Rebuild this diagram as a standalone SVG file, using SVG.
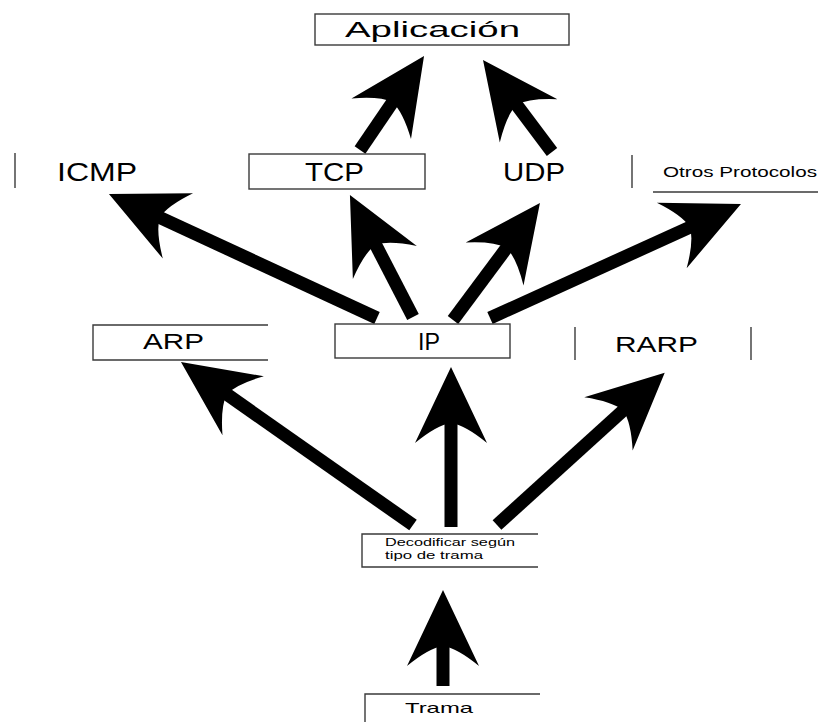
<svg xmlns="http://www.w3.org/2000/svg" width="818" height="722" viewBox="0 0 818 722">
<style>
.bx{fill:none;stroke:#3a3a3a;stroke-width:1.4}
.t{font-family:"Liberation Sans",Arial,sans-serif;fill:#000}
.ar{stroke:#000;stroke-width:13;fill:none}
</style>
<defs>
<marker id="head" markerUnits="userSpaceOnUse" orient="auto" refX="-45" refY="0" overflow="visible" markerWidth="1" markerHeight="1">
<path d="M0,0 L-76,-36 Q-58,-14 -56,0 Q-58,14 -76,36 Z" fill="#000"/>
</marker>
</defs>
<rect width="818" height="722" fill="#fff"/>
<g id="connectors">
<line class="ar" x1="443" y1="686" x2="443" y2="635" marker-end="url(#head)"/>
<line class="ar" x1="413" y1="525" x2="217.8" y2="387.9" marker-end="url(#head)"/>
<line class="ar" x1="451" y1="527" x2="451" y2="412" marker-end="url(#head)"/>
<line class="ar" x1="497" y1="525" x2="631.4" y2="403" marker-end="url(#head)"/>
<line class="ar" x1="377" y1="318" x2="149.8" y2="212.9" marker-end="url(#head)"/>
<line class="ar" x1="413" y1="317" x2="370.6" y2="235" marker-end="url(#head)"/>
<line class="ar" x1="453" y1="320" x2="513.1" y2="239.1" marker-end="url(#head)"/>
<line class="ar" x1="490" y1="318" x2="700" y2="222.6" marker-end="url(#head)"/>
<line class="ar" x1="360" y1="150" x2="398.7" y2="93.2" marker-end="url(#head)"/>
<line class="ar" x1="552" y1="152" x2="510" y2="96" marker-end="url(#head)"/>
</g>
<g id="aplicacion">
<rect class="bx" x="315" y="14" width="254" height="31"/>
<text class="t" x="345" y="37" font-size="22" textLength="175" lengthAdjust="spacingAndGlyphs">Aplicación</text>
</g>
<g id="icmp">
<line class="bx" x1="15" y1="153" x2="15" y2="188"/>
<text class="t" x="57" y="181" font-size="25" textLength="80" lengthAdjust="spacingAndGlyphs">ICMP</text>
</g>
<g id="tcp">
<rect class="bx" x="249" y="154" width="176" height="35"/>
<text class="t" x="305" y="181" font-size="25" textLength="59" lengthAdjust="spacingAndGlyphs">TCP</text>
</g>
<g id="udp">
<text class="t" x="503" y="181" font-size="25" textLength="62" lengthAdjust="spacingAndGlyphs">UDP</text>
</g>
<g id="otros">
<line class="bx" x1="632" y1="155" x2="632" y2="188"/>
<line class="bx" x1="653" y1="192" x2="818" y2="192"/>
<text class="t" x="663" y="177" font-size="14" textLength="154" lengthAdjust="spacingAndGlyphs">Otros Protocolos</text>
</g>
<g id="arp">
<path class="bx" d="M268,325 H93 V360 H268"/>
<text class="t" x="143" y="349" font-size="22" textLength="61" lengthAdjust="spacingAndGlyphs">ARP</text>
</g>
<g id="ip">
<rect class="bx" x="335" y="324" width="175" height="34"/>
<text class="t" x="418" y="350" font-size="23" textLength="22" lengthAdjust="spacingAndGlyphs">IP</text>
</g>
<g id="rarp">
<line class="bx" x1="575" y1="327" x2="575" y2="360"/>
<line class="bx" x1="751" y1="327" x2="751" y2="360"/>
<text class="t" x="615" y="352" font-size="22" textLength="83" lengthAdjust="spacingAndGlyphs">RARP</text>
</g>
<g id="decodificar">
<path class="bx" d="M538,534 H362 V567 H538"/>
<text class="t" x="385" y="546" font-size="10.5" textLength="130" lengthAdjust="spacingAndGlyphs">Decodificar según</text>
<text class="t" x="385" y="559" font-size="10.5" textLength="98" lengthAdjust="spacingAndGlyphs">tipo de trama</text>
</g>
<g id="trama">
<path class="bx" d="M540,694 H365 V722"/>
<text class="t" x="405" y="713" font-size="15" textLength="68" lengthAdjust="spacingAndGlyphs">Trama</text>
</g>
</svg>
